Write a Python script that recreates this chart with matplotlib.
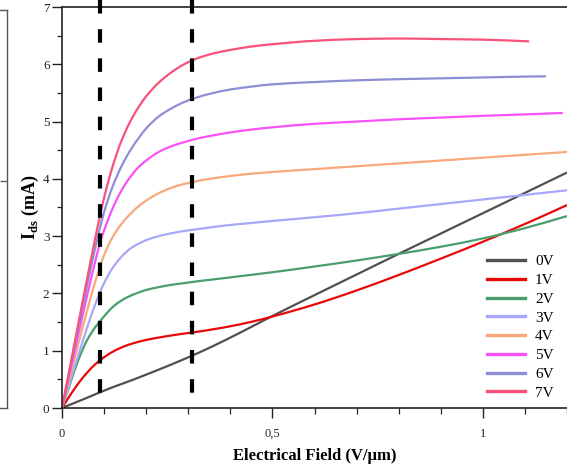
import matplotlib
matplotlib.use("Agg")
import matplotlib.pyplot as plt
from matplotlib.path import Path
from matplotlib.patches import PathPatch
from matplotlib.lines import Line2D
from matplotlib.ticker import MultipleLocator, FixedLocator, FixedFormatter

plt.rcParams['font.family'] = ['Liberation Serif', 'DejaVu Serif']
plt.rcParams['mathtext.fontset'] = 'custom'
plt.rcParams['mathtext.rm'] = 'Liberation Serif'
plt.rcParams['mathtext.bf'] = 'Liberation Serif:bold'

# Electrical field samples (V/um)
field = [0, 0.02, 0.04, 0.06, 0.08, 0.09, 0.10, 0.12, 0.14, 0.16, 0.18, 0.20,
         0.23, 0.26, 0.29, 0.32, 0.36, 0.40, 0.45, 0.50, 0.6, 0.7, 0.8, 0.9,
         1.0, 1.1, 1.2]

# Drain current Ids (mA) for each gate bias
ids_0v = [0, 0.06, 0.12, 0.18, 0.242, 0.273, 0.303, 0.361, 0.415, 0.469, 0.525,
          0.583, 0.67, 0.76, 0.853, 0.949, 1.085, 1.229, 1.416, 1.606, 1.97,
          2.33, 2.69, 3.045, 3.40, 3.755, 4.11]
ids_1v = [0, 0.23, 0.44, 0.62, 0.77, 0.83, 0.886, 0.98, 1.052, 1.108, 1.152,
          1.188, 1.23, 1.266, 1.299, 1.329, 1.375, 1.427, 1.504, 1.597, 1.807,
          2.052, 2.322, 2.607, 2.902, 3.212, 3.542]
ids_2v = [0, 0.44, 0.86, 1.19, 1.42, 1.51, 1.60, 1.76, 1.87, 1.95, 2.01, 2.06,
          2.11, 2.15, 2.18, 2.21, 2.245, 2.28, 2.325, 2.37, 2.47, 2.575, 2.69,
          2.815, 2.96, 3.14, 3.35]
ids_3v = [0, 0.48, 0.95, 1.41, 1.83, 2.015, 2.18, 2.44, 2.63, 2.77, 2.86, 2.93,
          3.00, 3.05, 3.09, 3.12, 3.16, 3.195, 3.23, 3.265, 3.33, 3.40, 3.48,
          3.56, 3.64, 3.72, 3.80]
ids_4v = [0, 0.58, 1.15, 1.71, 2.23, 2.46, 2.67, 2.98, 3.20, 3.37, 3.51, 3.62,
          3.75, 3.845, 3.91, 3.96, 4.01, 4.05, 4.09, 4.12, 4.17, 4.22, 4.27,
          4.32, 4.37, 4.42, 4.47]
ids_5v = [0, 0.66, 1.32, 1.97, 2.59, 2.875, 3.10, 3.48, 3.78, 4.01, 4.19, 4.32,
          4.47, 4.57, 4.64, 4.70, 4.76, 4.81, 4.86, 4.90, 4.96, 5.00, 5.04,
          5.07, 5.10, 5.125, 5.15]
ids_6v = [0, 0.72, 1.44, 2.15, 2.83, 3.14, 3.42, 3.86, 4.20, 4.47, 4.69, 4.88,
          5.09, 5.23, 5.34, 5.42, 5.50, 5.56, 5.61, 5.65, 5.69, 5.72, 5.74,
          5.755, 5.77, 5.785, 5.79]
ids_7v = [0, 0.76, 1.52, 2.27, 3.00, 3.35, 3.67, 4.21, 4.64, 4.97, 5.23, 5.44,
          5.68, 5.86, 6.00, 6.10, 6.19, 6.25, 6.31, 6.35, 6.41, 6.44, 6.45,
          6.44, 6.43, 6.40]

# last field value reached by the shorter sweeps
field_end_5v = 1.19
field_end_6v = 1.15
field_end_7v = 1.11

labels = ['0V', '1V', '2V', '3V', '4V', '5V', '6V', '7V']
colors = ['#505050', '#e80808', '#4a9e6c', '#a8a8fa', '#f8a87a',
          '#f852f8', '#8e8ed4', '#f8527a']

# boundaries of the field regions
region_bounds = [0.09, 0.31]

series_x = [field, field, field, field, field,
            field[:-1] + [field_end_5v],
            field[:-1] + [field_end_6v],
            field[:-2] + [field_end_7v]]
series_y = [ids_0v, ids_1v, ids_2v, ids_3v, ids_4v, ids_5v, ids_6v, ids_7v]


def smooth_path(xs, ys):
    """Monotone cubic (Bezier) path passing through every sample."""
    n = len(xs)
    h = [xs[i + 1] - xs[i] for i in range(n - 1)]
    d = [(ys[i + 1] - ys[i]) / h[i] for i in range(n - 1)]
    m = [0.0] * n
    m[0], m[-1] = d[0], d[-1]
    for k in range(1, n - 1):
        if d[k - 1] * d[k] <= 0:
            m[k] = 0.0
        else:
            w1 = 2 * h[k] + h[k - 1]
            w2 = h[k] + 2 * h[k - 1]
            m[k] = (w1 + w2) / (w1 / d[k - 1] + w2 / d[k])
    verts = [(xs[0], ys[0])]
    codes = [Path.MOVETO]
    for k in range(n - 1):
        verts += [(xs[k] + h[k] / 3, ys[k] + m[k] * h[k] / 3),
                  (xs[k + 1] - h[k] / 3, ys[k + 1] - m[k + 1] * h[k] / 3),
                  (xs[k + 1], ys[k + 1])]
        codes += [Path.CURVE4] * 3
    return Path(verts, codes)


fig = plt.figure(figsize=(5.67, 4.69), dpi=100)
W, H = 567, 469
ax = fig.add_axes([62 / W, (H - 408) / H, (567 - 62) / W, (408 - 7) / H])

handles = []
for xs, ys, lab, col in zip(series_x, series_y, labels, colors):
    patch = PathPatch(smooth_path(xs, ys), facecolor='none', edgecolor=col,
                      lw=1.6, transform=ax.transData)
    ax.add_patch(patch)
    handles.append(Line2D([], [], color=col, lw=2.4, label=lab))

ymax_line = 7 + 7 / 57.3
for xb in region_bounds:
    ln, = ax.plot([xb, xb], [ymax_line, 0.03], color='black', lw=3.0,
                  clip_on=False, zorder=5)
    ln.set_dashes([3.25, 3.75])

ax.set_xlim(0, 1.2)
ax.set_ylim(0, 7)

ax.xaxis.set_major_locator(FixedLocator([0, 0.5, 1.0]))
ax.xaxis.set_major_formatter(FixedFormatter(['0', '0,5', '1']))
ax.xaxis.set_minor_locator(MultipleLocator(0.1))
ax.yaxis.set_major_locator(MultipleLocator(1))
ax.yaxis.set_minor_locator(MultipleLocator(0.5))

ax.tick_params(axis='x', which='major', direction='out', length=7.5, width=1.0,
               pad=7, labelsize=9, colors='#222222')
ax.tick_params(axis='x', which='minor', direction='out', length=4, width=0.9,
               colors='#222222')
ax.tick_params(axis='y', which='major', direction='out', length=7, width=1.0,
               pad=2, labelsize=9.5, colors='#222222')
ax.tick_params(axis='y', which='minor', direction='out', length=3.5, width=0.9,
               colors='#222222')

for side in ['left', 'bottom', 'top']:
    ax.spines[side].set_color('#222222')
    ax.spines[side].set_linewidth(1.2)
ax.spines['right'].set_visible(False)

ax.set_xlabel('Electrical Field (V/\u03bcm)', fontsize=12, fontweight='bold',
              labelpad=6)
ax.set_ylabel(r'$\mathbf{I}_{\mathbf{ds}}$ (mA)', fontsize=13,
              fontweight='bold', labelpad=1)

leg = ax.legend(handles=handles, loc='lower right',
                bbox_to_anchor=(0.99, 0.0), frameon=False, fontsize=11,
                handlelength=2.5, handletextpad=0.65, labelspacing=0.33,
                borderaxespad=0.15)

# neighbouring panel frame at the left edge
side_ax = fig.add_axes([-0.2, (H - 408) / H, 0.2 + 7 / W, (408 - 10) / H])
side_ax.set_xticks([])
side_ax.set_ylim(0, 1)
side_ax.yaxis.tick_right()
side_ax.set_yticks([(408 - 181) / 398])
side_ax.tick_params(axis='y', direction='in', length=5, width=0.9,
                    colors='#555555', labelright=False)
for s in side_ax.spines.values():
    s.set_color('#555555')
    s.set_linewidth(1.0)

fig.savefig('out.png', dpi=100)
